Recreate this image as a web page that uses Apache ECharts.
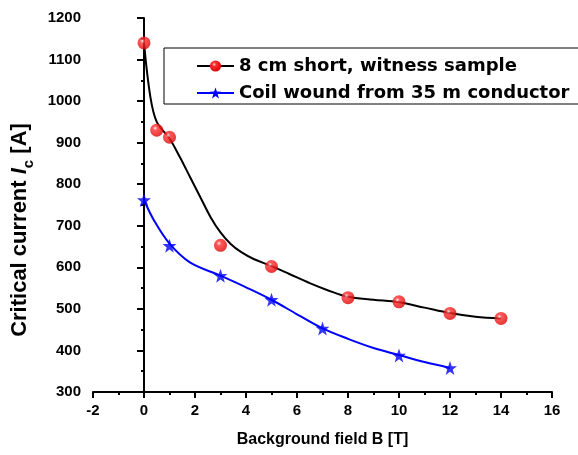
<!DOCTYPE html>
<html>
<head>
<meta charset="utf-8">
<script src="https://cdn.jsdelivr.net/npm/echarts@6/dist/echarts.min.js"></script>
<style>
html,body{margin:0;padding:0;background:#fff;}
#chart{width:578px;height:455px;}
</style>
</head>
<body>
<div id="chart"></div>
<script>
// Measured points
const fieldShort = [0, 0.5, 1, 3, 5, 8, 10, 12, 14];
const icShort = [1140, 930, 913, 653, 602, 527, 517, 489, 477];
const fieldCoil = [0, 1, 3, 5, 7, 10, 12];
const icCoil = [762, 652, 580, 522, 453, 388, 358];
// Fitted guide curves
const fitShortX = [0, 0.25, 0.5, 1, 1.4, 1.8, 2.2, 2.6, 3, 3.4, 3.8, 4.3, 5, 5.7, 6.5, 7.2, 8, 9, 10, 11, 12, 13, 14];
const fitShortY = [1140, 1010, 950, 910, 866, 818, 770, 722, 684, 656, 637, 620, 603, 584, 562, 545, 529, 522, 516, 503, 490, 481, 477];
const fitCoilX = [0, 0.4, 1, 1.8, 3, 4, 5, 6, 7, 8, 9, 10, 11, 12];
const fitCoilY = [762, 712, 657, 612, 580, 552, 522, 487, 453, 428, 406, 389, 372, 358];
const xTicks = [-2, 0, 2, 4, 6, 8, 10, 12, 14, 16];
const yTicks = [300, 400, 500, 600, 700, 800, 900, 1000, 1100, 1200];
const nameShort = '8 cm short, witness sample';
const nameCoil = 'Coil wound from 35 m conductor';

const zip = (xs, ys) => xs.map((x, i) => [x, ys[i]]);
const STAR = 'path://M0,-10L2.35,-3.24L9.51,-3.09L3.8,1.24L5.88,8.09L0,4L-5.88,8.09L-3.8,1.24L-9.51,-3.09L-2.35,-3.24Z';
const sphere = {
  type: 'radial', x: 0.38, y: 0.35, r: 0.7,
  colorStops: [
    {offset: 0, color: '#ffe6e6'},
    {offset: 0.25, color: '#ff3030'},
    {offset: 1, color: '#d80000'}
  ]
};
const ARIAL = 'Arial, "Liberation Sans", sans-serif';

const chart = echarts.init(document.getElementById('chart'), null, {renderer: 'canvas'});
chart.setOption({
  animation: false,
  backgroundColor: '#ffffff',
  grid: {left: 93, right: 26, top: 18, bottom: 63, containLabel: false},
  legend: {
    data: [nameShort, nameCoil],
    orient: 'vertical',
    left: 164, top: 48,
    itemWidth: 37, itemHeight: 14, itemGap: 9,
    padding: [9, 10, 2, 32],
    borderColor: '#000', borderWidth: 1,
    backgroundColor: '#fff',
    textStyle: {fontFamily: '"DejaVu Sans", sans-serif', fontWeight: 'bold', fontSize: 18, color: '#000'}
  },
  xAxis: {
    type: 'value', min: xTicks[0], max: xTicks[xTicks.length - 1], interval: 2,
    name: 'Background field B [T]', nameLocation: 'middle', nameGap: 40,
    nameTextStyle: {fontFamily: ARIAL, fontWeight: 'bold', fontSize: 16, color: '#000'},
    axisLine: {lineStyle: {color: '#000', width: 2}},
    axisTick: {length: 6, lineStyle: {color: '#000', width: 2}},
    minorTick: {show: true, splitNumber: 2, length: 3, lineStyle: {color: '#000', width: 2}},
    axisLabel: {margin: 11, fontFamily: ARIAL, fontWeight: 'bold', fontSize: 15, color: '#000'},
    splitLine: {show: false}
  },
  yAxis: {
    type: 'value', min: yTicks[0], max: yTicks[yTicks.length - 1], interval: 100,
    name: '{a|Critical current }{i|I}{s|c}{a| [A]}', nameLocation: 'middle', nameGap: 50,
    nameTextStyle: {
      padding: [0, 50, 0, 0],
      rich: {
        a: {fontFamily: ARIAL, fontWeight: 'bold', fontSize: 22, color: '#000', lineHeight: 22, verticalAlign: 'top'},
        i: {fontFamily: ARIAL, fontWeight: 'bold', fontStyle: 'italic', fontSize: 22, color: '#000', lineHeight: 22, verticalAlign: 'top'},
        s: {fontFamily: ARIAL, fontWeight: 'bold', fontSize: 15, color: '#000', lineHeight: 28, verticalAlign: 'bottom'}
      }
    },
    axisLine: {lineStyle: {color: '#000', width: 2}},
    axisTick: {length: 7, lineStyle: {color: '#000', width: 2}},
    minorTick: {show: true, splitNumber: 2, length: 3, lineStyle: {color: '#000', width: 2}},
    axisLabel: {margin: 12, fontFamily: ARIAL, fontWeight: 'bold', fontSize: 15, color: '#000',
      formatter: v => String(v)},
    splitLine: {show: false}
  },
  series: [
    {
      name: nameShort, type: 'line', smooth: 0.35, showSymbol: false,
      symbol: 'circle', symbolSize: 12,
      data: zip(fitShortX, fitShortY),
      lineStyle: {color: '#000', width: 2},
      itemStyle: {color: sphere},
      z: 2
    },
    {
      name: nameCoil, type: 'line', smooth: 0.35, showSymbol: false,
      symbol: STAR, symbolSize: 13,
      data: zip(fitCoilX, fitCoilY),
      lineStyle: {color: '#0000ff', width: 2},
      itemStyle: {color: '#0000ff'},
      z: 2
    },
    {
      name: 'short pts', type: 'scatter', symbol: 'circle', symbolSize: 13,
      data: zip(fieldShort, icShort),
      itemStyle: {color: sphere},
      z: 5
    },
    {
      name: 'coil pts', type: 'scatter', symbol: STAR, symbolSize: 14,
      data: zip(fieldCoil, icCoil),
      itemStyle: {color: '#0000ff'},
      z: 5
    }
  ]
});
</script>
</body>
</html>
